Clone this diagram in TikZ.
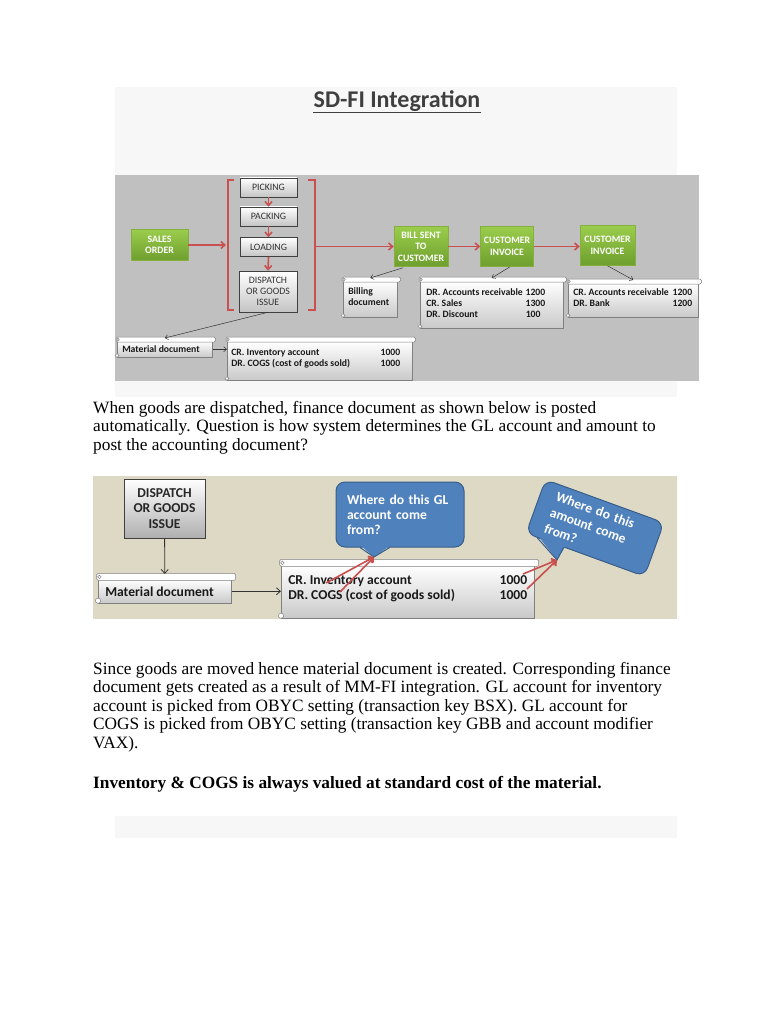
\documentclass[tikz,border=0pt]{standalone}
\usepackage{fontspec}
\setmainfont{Liberation Serif}
\newfontfamily\carlito{Carlito}
\usetikzlibrary{calc,arrows.meta}
\definecolor{panellight}{HTML}{F7F7F7}
\definecolor{panelgray}{HTML}{C0C0C0}
\definecolor{beige}{HTML}{DDD9C4}
\definecolor{arrowred}{HTML}{C8504E}
\definecolor{greentop}{HTML}{9ACD4C}
\definecolor{greenbot}{HTML}{6E9E2E}
\definecolor{greenline}{HTML}{86B03E}
\definecolor{boxline}{HTML}{404040}
\definecolor{boxbot}{HTML}{C4C4C4}
\definecolor{boxbottwo}{HTML}{AFAFAF}
\definecolor{boxtext}{HTML}{333333}
\definecolor{scrollline}{HTML}{808080}
\definecolor{scrollbot}{HTML}{C9C9C9}
\definecolor{bubblefill}{HTML}{4F81BD}
\definecolor{bubbleline}{HTML}{385D8A}
\definecolor{titlegray}{HTML}{3F3F3F}
\newcommand\scrolltext[6]{\parbox[c][#2][t]{#1}{\parindent=0pt\leftskip=#3\rightskip=#4 plus 1fil\relax\rule{0pt}{#5}#6}}
\newcommand\scrolldeco[2]{%
  \draw[scrollline, fill=white, line width=0.5pt, rounded corners=1.5pt] ($(#1.north west)+(-1*#2,-4*#2)$) rectangle ($(#1.north east)+(3*#2,1*#2)$);
  \draw[scrollline, fill=white, line width=0.5pt] ($(#1.north west)+(1*#2,-1.5*#2)$) circle[radius={1.3pt*#2}];
  \draw[scrollline, fill=white, line width=0.5pt] ($(#1.south west)+(0,-2*#2)$) circle[radius={1.9pt*#2}];
}
\begin{document}
\begin{tikzpicture}[x=1pt,y=-1pt,
  gbox/.style={rectangle, draw=greenline, line width=0.5pt, top color=greentop, bottom color=greenbot, text=white, font=\carlito\bfseries\fontsize{9.8}{11.5}\selectfont, align=center, inner sep=0pt},
  pbox/.style={rectangle, draw=boxline, line width=0.6pt, top color=white, bottom color=boxbot, text=boxtext, font=\carlito\fontsize{9.8}{11}\selectfont, align=center, inner sep=0pt, minimum width=57pt},
  scroll/.style={rectangle, draw=scrollline, line width=0.5pt, top color=white, bottom color=scrollbot, inner sep=0pt, anchor=north west},
  stxt/.style={font=\carlito\bfseries\fontsize{9.7}{10.8}\selectfont, text=black!90},
  btxt/.style={font=\carlito\bfseries\fontsize{13.6}{15.5}\selectfont, text=black!90},
  redarrow/.style={draw=arrowred, line width=1.6pt, -{Straight Barb[length=4pt,width=7pt]}},
  thinarrow/.style={draw=black!80, line width=0.5pt, -{Straight Barb[length=3pt,width=5pt]}},
  thinarrowtwo/.style={draw=black!80, line width=0.8pt, -{Straight Barb[length=4pt,width=7pt]}},
  bubble/.style={rectangle, rounded corners=9pt, draw=bubbleline, line width=1pt, fill=bubblefill, text=white, font=\carlito\bfseries\fontsize{13.6}{15}\selectfont, align=left, inner sep=0pt},
  para/.style={anchor=base west, inner sep=0pt, font=\fontsize{17.3}{19}\selectfont},
]
\useasboundingbox (0,0) rectangle (768,1024);
\fill[white] (0,0) rectangle (768,1024);
% panels
\fill[panellight] (115,87) rectangle (677,397);
\fill[panelgray] (115,175) rectangle (699,381);
\fill[beige] (93,476) rectangle (677,619);
\fill[panellight] (115,816) rectangle (677,838);
% title
\node[anchor=base, inner sep=0pt, font=\carlito\bfseries\fontsize{24}{28}\selectfont, text=titlegray] (title) at (397,108) {SD-FI Integration};
\draw[titlegray, line width=1.8pt] ($(title.base west)+(0,4.5)$) -- ($(title.base east)+(0,4.5)$);
% top diagram: process nodes
\node[gbox, minimum width=57pt, minimum height=31pt] (sales) at (159.5,245) {SALES\\ORDER};
\node[pbox, minimum height=19pt] (pick) at (268.5,187.5) {PICKING};
\node[pbox, minimum height=19pt] (pack) at (268.5,216.5) {PACKING};
\node[pbox, minimum height=19pt] (load) at (268.5,247) {LOADING};
\node[pbox, minimum width=58pt, minimum height=41pt] (disp) at (268,291.5) {DISPATCH\\OR GOODS\\ISSUE};
\node[gbox, minimum width=54pt, minimum height=40pt] (bill) at (421,246.5) {BILL SENT\\TO\\CUSTOMER};
\node[gbox, minimum width=53pt, minimum height=40pt] (ci1) at (507,246.5) {CUSTOMER\\INVOICE};
\node[gbox, minimum width=55pt, minimum height=40pt] (ci2) at (607.5,245.5) {CUSTOMER\\INVOICE};
% brackets
\draw[arrowred, line width=2.2pt] (234,180) -- (228,180) -- (228,310) -- (234,310);
\draw[arrowred, line width=2.2pt] (308,180) -- (315,180) -- (315,310) -- (308,310);
\coordinate (lb) at (226,245);
\coordinate (rb) at (316,246.5);
% red flow arrows
\draw[redarrow] (sales) -- (lb);
\draw[redarrow] (pick.south) -- (pack.north);
\draw[redarrow] (pack.south) -- (load.north);
\draw[redarrow] (load.south) -- (disp.north);
\draw[redarrow] (rb) -- (rb -| bill.west);
\draw[redarrow] (bill.east) -- (bill.east -| ci1.west);
\draw[redarrow] (ci1.east) -- (ci1.east -| ci2.west);
% top scrolls
\node[scroll, stxt] (billdoc) at (343,281) {\scrolltext{54pt}{36pt}{5pt}{3pt}{13.5pt}{Billing\\document}};
\node[scroll, stxt] (drdoc) at (420,281) {\scrolltext{143pt}{47pt}{6pt}{18pt}{14.5pt}{DR. Accounts receivable \hfill 1200\\CR. Sales\hfill 1300\\DR. Discount\hfill\makebox[19.5pt][l]{100}}};
\node[scroll, stxt] (crdoc) at (568,283) {\scrolltext{130pt}{34pt}{5pt}{6pt}{12.5pt}{CR. Accounts receivable \hfill 1200\\DR. Bank\hfill 1200}};
\node[scroll, stxt] (matdoc) at (117,341) {\scrolltext{95pt}{16pt}{5pt}{3pt}{11.5pt}{Material document}};
\node[scroll, stxt] (invdoc) at (227,341) {\scrolltext{185pt}{39pt}{4pt}{12pt}{14.5pt}{CR. Inventory account\hfill 1000\\DR. COGS (cost of goods sold)\hfill 1000}};
\scrolldeco{billdoc}{1}
\scrolldeco{drdoc}{1}
\scrolldeco{crdoc}{1}
\scrolldeco{matdoc}{1}
\scrolldeco{invdoc}{1}
% top thin arrows
\draw[thinarrow] ($(bill.south)+(-18,1)$) -- ($(billdoc.north)+(0,-3)$);
\draw[thinarrow] ($(ci1.south)+(3,0)$) -- ($(drdoc.north)+(0,-3)$);
\draw[thinarrow] (ci2.south) -- ($(crdoc.north)+(0,-3)$);
\draw[thinarrow] (disp.south) -- ($(matdoc.north)+(0,-3)$);
\draw[thinarrow] (matdoc.east) -- (matdoc.east -| invdoc.west);
% paragraph 1
\node[para] (p1a) at (93,413) {When goods are dispatched, finance document as shown below is posted};
\node[para] (p1b) at (93,431.5) {automatically. Question is how system determines the GL account and amount to};
\node[para] (p1c) at (93,450) {post the accounting document?};
% second diagram
\node[pbox, draw=boxline, line width=1pt, bottom color=boxbottwo, text=black!85, font=\carlito\bfseries\fontsize{13.6}{15.5}\selectfont, minimum width=81pt, minimum height=59pt] (disp2) at (164.5,508.5) {DISPATCH\\OR GOODS\\ISSUE};
\node[scroll, btxt] (matdoc2) at (98,579) {\scrolltext{133pt}{24pt}{7pt}{3pt}{17.5pt}{Material document}};
\node[scroll, btxt] (invdoc2) at (281,565) {\scrolltext{253pt}{53pt}{7pt}{7pt}{19pt}{CR. Inventory account\hfill 1000\\DR. COGS (cost of goods sold)\hfill 1000}};
\scrolldeco{matdoc2}{1.4}
\scrolldeco{invdoc2}{1.4}
\draw[thinarrowtwo] (disp2) -- ($(matdoc2.north)+(0,-5)$);
\draw[thinarrowtwo] (matdoc2.east) -- (matdoc2.east -| invdoc2.west);
% callout 1
\node[bubble, text width=106pt, minimum width=128pt, minimum height=65pt] (call1) at (400,514.5) {Where do this GL\\account come\\from?};
\coordinate (tip1) at (374,557);
\coordinate (c1a) at ($(call1.south west)!0.19!(call1.south east)$);
\coordinate (c1b) at ($(call1.south west)!0.42!(call1.south east)$);
\fill[bubblefill] ($(c1a)!2pt!(call1.center)$) -- (tip1) -- ($(c1b)!2pt!(call1.center)$) -- cycle;
\draw[bubbleline, line width=1pt] (c1a) -- (tip1) -- (c1b);
% callout 2
\node[bubble, rotate=-20, text width=94pt, minimum width=126pt, minimum height=57pt, font=\carlito\bfseries\fontsize{13.6}{17}\selectfont] (call2) at (595,528) {Where do this\\amount come\\from?};
\coordinate (tip2) at (557,560);
\coordinate (c2a) at ($(call2.south west)!0.10!(call2.south east)$);
\coordinate (c2b) at ($(call2.south west)!0.32!(call2.south east)$);
\fill[bubblefill] ($(c2a)!2pt!(call2.center)$) -- (tip2) -- ($(c2b)!2pt!(call2.center)$) -- cycle;
\draw[bubbleline, line width=1pt] (c2a) -- (tip2) -- (c2b);
% red pointer arrows
\coordinate (r1) at (326,583);
\coordinate (r2) at (340,592);
\coordinate (r3) at (523,574);
\coordinate (r4) at (527,589);
\draw[redarrow] (r1) -- (tip1);
\draw[redarrow] (r2) -- (tip1);
\draw[redarrow] (r3) -- (tip2);
\draw[redarrow] (r4) -- (tip2);
% paragraph 2
\node[para] (p2a) at (93,674) {Since goods are moved hence material document is created. Corresponding finance};
\node[para] (p2b) at (93,692.5) {document gets created as a result of MM-FI integration. GL account for inventory};
\node[para] (p2c) at (93,711) {account is picked from OBYC setting (transaction key BSX). GL account for};
\node[para] (p2d) at (93,729.5) {COGS is picked from OBYC setting (transaction key GBB and account modifier};
\node[para] (p2e) at (93,748) {VAX).};
\node[para, font=\bfseries\fontsize{17.3}{19}\selectfont] (p3) at (93,788) {Inventory \& COGS is always valued at standard cost of the material.};
\end{tikzpicture}
\end{document}
